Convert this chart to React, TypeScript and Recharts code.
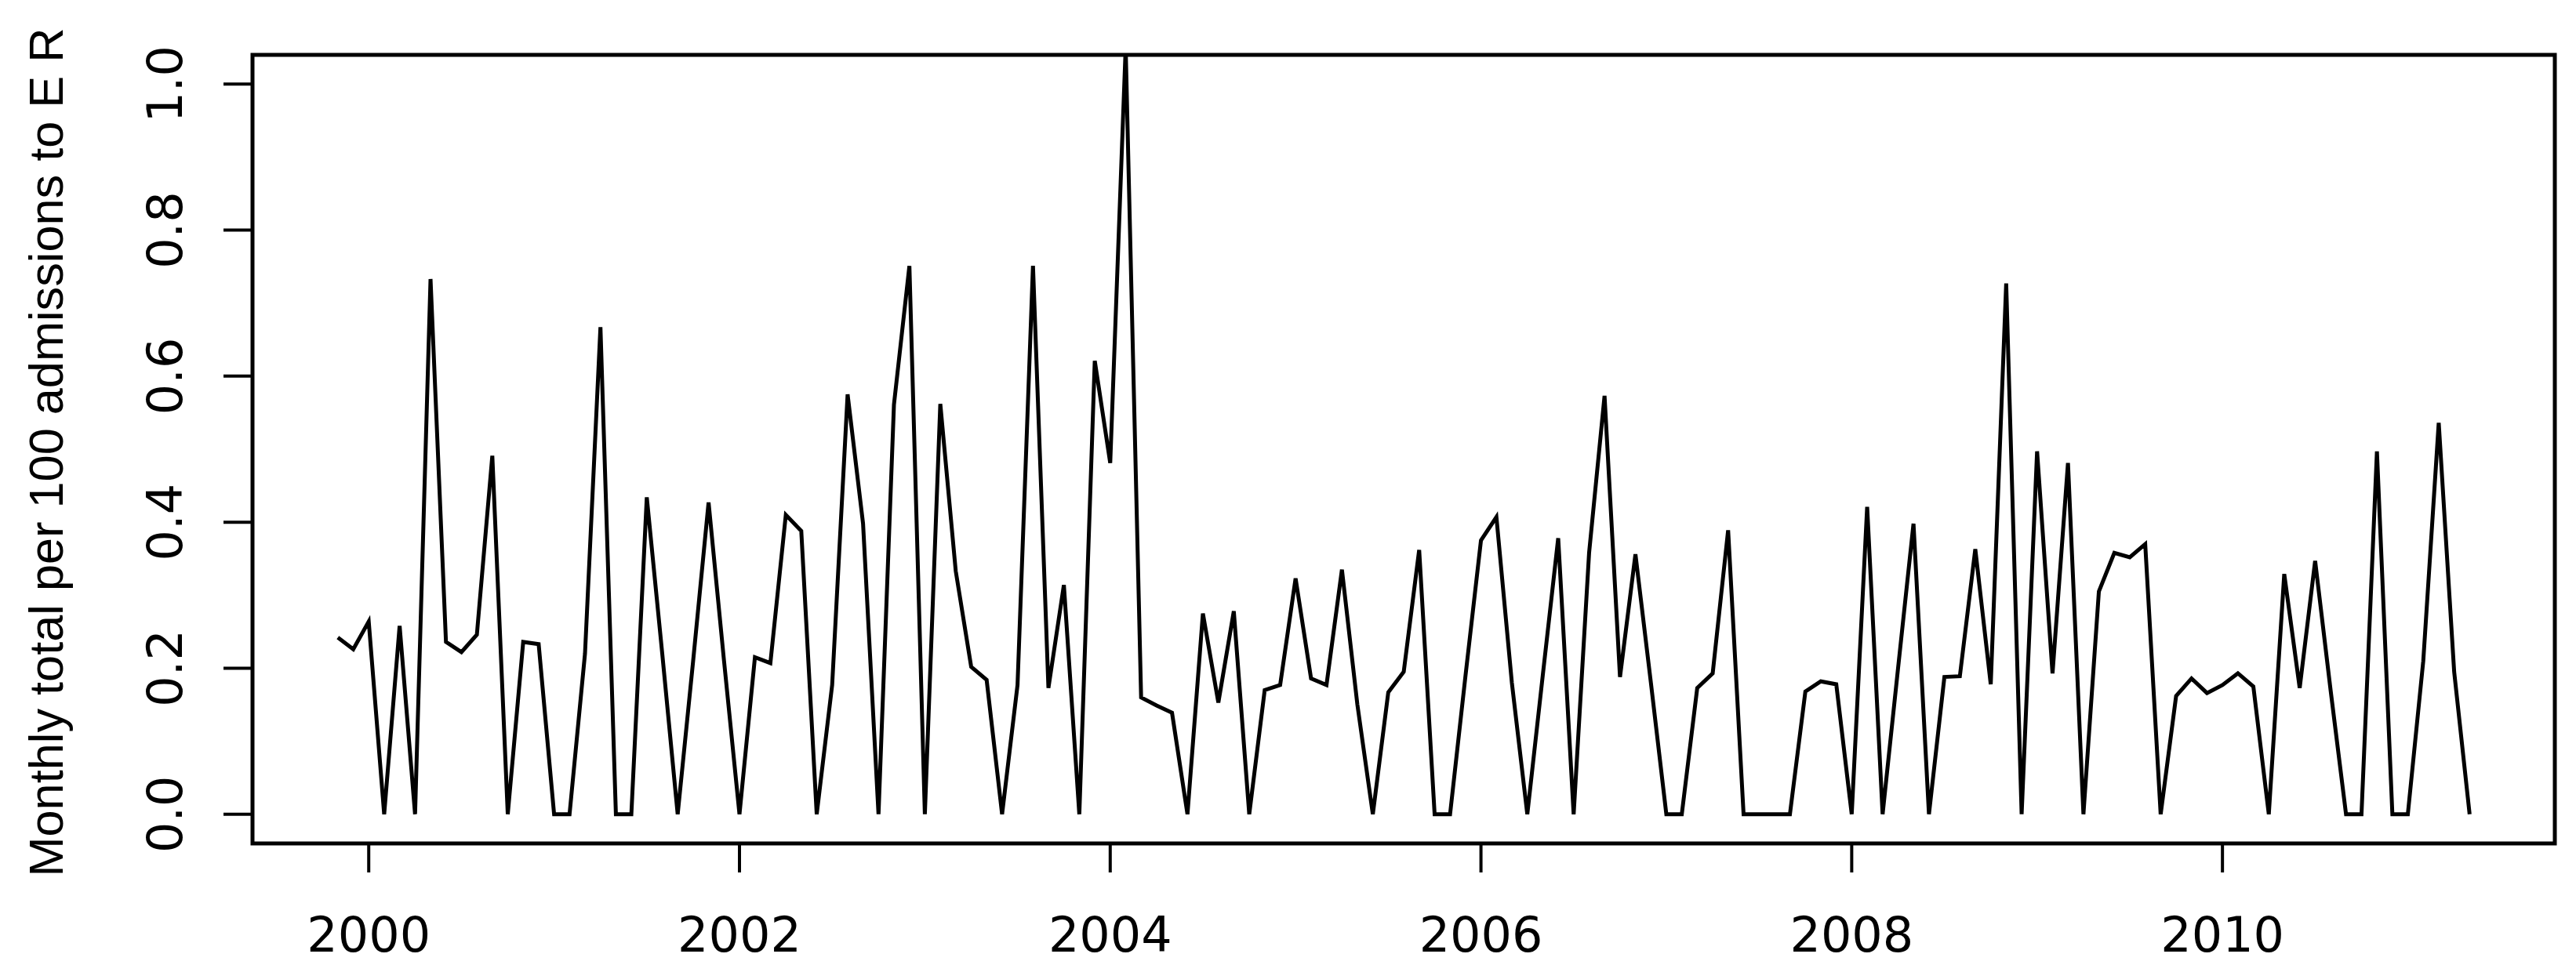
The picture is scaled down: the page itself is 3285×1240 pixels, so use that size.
import React from 'react';
import { LineChart, Line, XAxis, YAxis, ReferenceArea } from 'recharts';

// monthly totals per 100 admissions to ER, Nov 1999 – May 2011
const y1999 = [0.242, 0.226]; // Nov, Dec
const y2000 = [0.264, 0, 0.258, 0, 0.733, 0.236, 0.222, 0.246, 0.491, 0, 0.236, 0.233];
const y2001 = [0, 0, 0.22, 0.667, 0, 0, 0.434, 0.22, 0, 0.21, 0.427, 0.21];
const y2002 = [0, 0.215, 0.207, 0.41, 0.388, 0, 0.177, 0.575, 0.398, 0, 0.561, 0.751];
const y2003 = [0, 0.562, 0.333, 0.202, 0.184, 0, 0.177, 0.751, 0.173, 0.314, 0, 0.621];
const y2004 = [0.481, 1.05, 0.16, 0.149, 0.139, 0, 0.275, 0.153, 0.278, 0, 0.17, 0.177];
const y2005 = [0.323, 0.186, 0.177, 0.335, 0.15, 0, 0.167, 0.195, 0.362, 0, 0, 0.19];
const y2006 = [0.375, 0.407, 0.18, 0, 0.19, 0.378, 0, 0.358, 0.573, 0.188, 0.356, 0.18];
const y2007 = [0, 0, 0.173, 0.193, 0.389, 0, 0, 0, 0, 0.168, 0.182, 0.178];
const y2008 = [0, 0.421, 0, 0.2, 0.398, 0, 0.188, 0.189, 0.363, 0.178, 0.727, 0];
const y2009 = [0.497, 0.193, 0.481, 0, 0.305, 0.358, 0.352, 0.37, 0, 0.162, 0.186, 0.166];
const y2010 = [0.177, 0.193, 0.175, 0, 0.329, 0.173, 0.347, 0.17, 0, 0, 0.497, 0];
const y2011 = [0, 0.21, 0.536, 0.195, 0]; // Jan – May

const xTicks = [2000, 2002, 2004, 2006, 2008, 2010];
const yTicks = [0, 0.2, 0.4, 0.6, 0.8, 1.0];
const yLabel = 'Monthly total per 100 admissions to E R';

const startYear = 1999;
const startMonth = 10; // November, 0-based
const series = [y1999, y2000, y2001, y2002, y2003, y2004, y2005, y2006, y2007, y2008, y2009, y2010, y2011].flat();
const data = series.map((v, i) => ({ t: startYear + (startMonth + i) / 12, v }));

const X_DOMAIN: [number, number] = [1999.373, 2011.793];
const Y_DOMAIN: [number, number] = [-0.04, 1.04];
const FONT = '"DejaVu Sans", sans-serif';

const XTick = (p: any) => (
  <text x={p.x} y={p.y + 101} textAnchor="middle" fontSize={62} fontFamily={FONT} fill="#000">
    {p.payload.value}
  </text>
);

const YTick = (p: any) => (
  <text
    x={p.x}
    y={p.y}
    transform={`rotate(-90, ${p.x}, ${p.y})`}
    textAnchor="middle"
    fontSize={62}
    fontFamily={FONT}
    fill="#000"
  >
    {Number(p.payload.value).toFixed(1)}
  </text>
);

const renderYLabel = () => (
  <text
    x={80}
    y={577}
    transform="rotate(-90, 80, 577)"
    textAnchor="middle"
    fontSize={62}
    fontFamily={'"Liberation Sans Narrow", "Liberation Sans", sans-serif'}
    textLength={1083}
    lengthAdjust="spacingAndGlyphs"
    fill="#000"
  >
    {yLabel}
  </text>
);

export default function App() {
  return (
    <div style={{ position: 'absolute', left: 0, top: 0, background: '#fff' }}>
      <LineChart width={3285} height={1240} data={data} margin={{ top: 70, right: 27, bottom: 0, left: 0 }}>
        <XAxis
          type="number"
          dataKey="t"
          domain={X_DOMAIN}
          ticks={xTicks}
          height={164}
          axisLine={false}
          tickLine={{ stroke: '#000', strokeWidth: 4 }}
          tickSize={37}
          tickMargin={0}
          tick={XTick}
          allowDataOverflow
        />
        <YAxis
          type="number"
          domain={Y_DOMAIN}
          ticks={yTicks}
          width={322}
          axisLine={false}
          tickLine={{ stroke: '#000', strokeWidth: 4 }}
          tickSize={37}
          tickMargin={53}
          tick={YTick}
          allowDataOverflow
          label={renderYLabel}
        />
        <Line
          type="linear"
          dataKey="v"
          stroke="#000"
          strokeWidth={5}
          dot={false}
          activeDot={false}
          isAnimationActive={false}
        />
        <ReferenceArea
          x1={X_DOMAIN[0]}
          x2={X_DOMAIN[1]}
          y1={Y_DOMAIN[0]}
          y2={Y_DOMAIN[1]}
          fill="none"
          stroke="#000"
          strokeWidth={5}
          ifOverflow="visible"
        />
      </LineChart>
    </div>
  );
}
